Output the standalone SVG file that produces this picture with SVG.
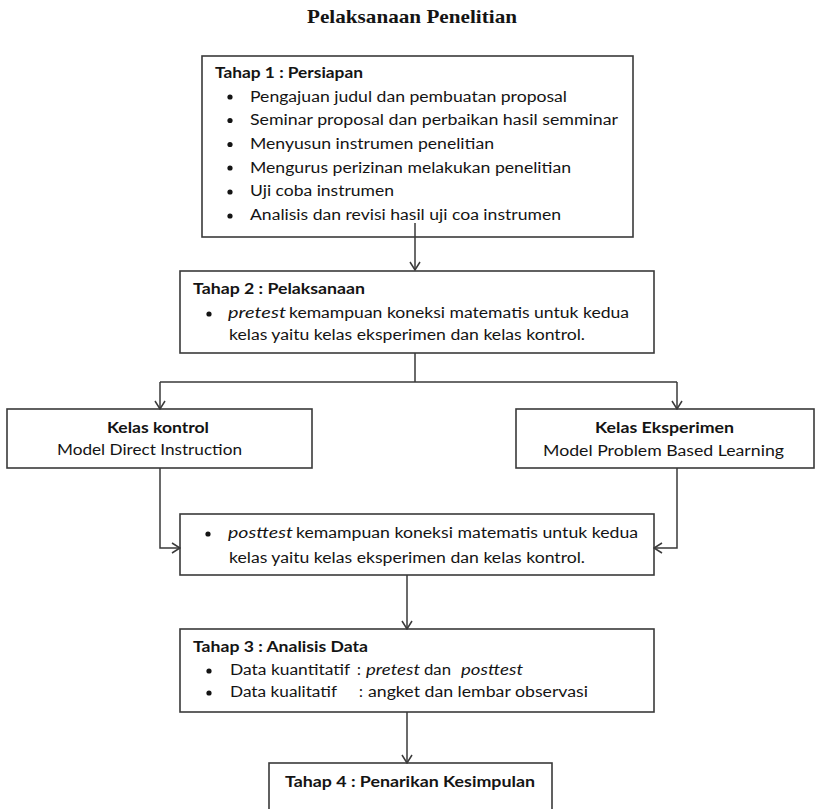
<svg xmlns="http://www.w3.org/2000/svg" width="815" height="809" viewBox="0 0 815 809">
<defs>
<style>
.box{fill:#fff;stroke:#3a3a3a;stroke-width:1.6}
.ln{fill:none;stroke:#3a3a3a;stroke-width:1.5}
.arr{marker-end:url(#ah)}
text{font-family:Lato,"Liberation Sans",sans-serif;fill:#141414;font-size:15.5px}
.b{font-weight:bold}
.i{font-style:italic}
.title{font-family:"Liberation Serif",serif;font-weight:bold;font-size:19px}
.dot{fill:#141414}
</style>
<marker id="ah" viewBox="0 0 10 12" refX="9" refY="6" markerWidth="10" markerHeight="12" markerUnits="userSpaceOnUse" orient="auto">
<path d="M1,1 L9,6 L1,11" fill="none" stroke="#3a3a3a" stroke-width="1.5"/>
</marker>
</defs>
<rect width="815" height="809" fill="#fff"/>
<text class="title" x="307" y="23" textLength="210" lengthAdjust="spacingAndGlyphs">Pelaksanaan Penelitian</text>

<g id="tahap1">
<rect class="box" x="202" y="56" width="431" height="181"/>
<text class="b" x="215" y="78" textLength="148" lengthAdjust="spacingAndGlyphs">Tahap 1 : Persiapan</text>
<circle class="dot" cx="230" cy="97" r="2.6"/>
<text x="250" y="101.5" textLength="317" lengthAdjust="spacingAndGlyphs">Pengajuan judul dan pembuatan proposal</text>
<circle class="dot" cx="230" cy="120.5" r="2.6"/>
<text x="250" y="125" textLength="368" lengthAdjust="spacingAndGlyphs">Seminar proposal dan perbaikan hasil semminar</text>
<circle class="dot" cx="230" cy="144.5" r="2.6"/>
<text x="250" y="149" textLength="244" lengthAdjust="spacingAndGlyphs">Menyusun instrumen penelitian</text>
<circle class="dot" cx="230" cy="168" r="2.6"/>
<text x="250" y="172.5" textLength="321" lengthAdjust="spacingAndGlyphs">Mengurus perizinan melakukan penelitian</text>
<circle class="dot" cx="230" cy="192" r="2.6"/>
<text x="250" y="196" textLength="144" lengthAdjust="spacingAndGlyphs">Uji coba instrumen</text>
<circle class="dot" cx="230" cy="216" r="2.6"/>
<text x="250" y="220" textLength="311" lengthAdjust="spacingAndGlyphs">Analisis dan revisi hasil uji coa instrumen</text>
</g>

<g id="tahap2">
<rect class="box" x="180" y="271" width="474" height="82"/>
<text class="b" x="193" y="294" textLength="172" lengthAdjust="spacingAndGlyphs">Tahap 2 : Pelaksanaan</text>
<circle class="dot" cx="209" cy="314" r="2.6"/>
<text class="i" x="228" y="318" textLength="58" lengthAdjust="spacingAndGlyphs">pretest</text>
<text x="289" y="318" textLength="340" lengthAdjust="spacingAndGlyphs">kemampuan koneksi matematis untuk kedua</text>
<text x="229" y="340" textLength="356" lengthAdjust="spacingAndGlyphs">kelas yaitu kelas eksperimen dan kelas kontrol.</text>
</g>

<g id="kelas-kontrol">
<rect class="box" x="7" y="409" width="305" height="59"/>
<text class="b" x="107" y="433" textLength="102" lengthAdjust="spacingAndGlyphs">Kelas kontrol</text>
<text x="57" y="455" textLength="185" lengthAdjust="spacingAndGlyphs">Model Direct Instruction</text>
</g>

<g id="kelas-eksperimen">
<rect class="box" x="516" y="409" width="298" height="59"/>
<text class="b" x="595" y="433" textLength="139" lengthAdjust="spacingAndGlyphs">Kelas Eksperimen</text>
<text x="543" y="456" textLength="241" lengthAdjust="spacingAndGlyphs">Model Problem Based Learning</text>
</g>

<g id="posttest">
<rect class="box" x="180" y="514" width="474" height="61"/>
<circle class="dot" cx="208" cy="534" r="2.6"/>
<text class="i" x="228" y="538" textLength="65" lengthAdjust="spacingAndGlyphs">posttest</text>
<text x="296" y="538" textLength="342" lengthAdjust="spacingAndGlyphs">kemampuan koneksi matematis untuk kedua</text>
<text x="229" y="563" textLength="356" lengthAdjust="spacingAndGlyphs">kelas yaitu kelas eksperimen dan kelas kontrol.</text>
</g>

<g id="tahap3">
<rect class="box" x="180" y="629" width="474" height="83"/>
<text class="b" x="193" y="652" textLength="175" lengthAdjust="spacingAndGlyphs">Tahap 3 : Analisis Data</text>
<circle class="dot" cx="209" cy="671" r="2.6"/>
<text x="230" y="675" textLength="120" lengthAdjust="spacingAndGlyphs">Data kuantitatif</text>
<text x="357" y="675">:</text>
<text class="i" x="366" y="675" textLength="54" lengthAdjust="spacingAndGlyphs">pretest</text>
<text x="424" y="675" textLength="27" lengthAdjust="spacingAndGlyphs">dan</text>
<text class="i" x="461" y="675" textLength="62" lengthAdjust="spacingAndGlyphs">posttest</text>
<circle class="dot" cx="209" cy="693" r="2.6"/>
<text x="230" y="697" textLength="107" lengthAdjust="spacingAndGlyphs">Data kualitatif</text>
<text x="359" y="697">:</text>
<text x="368" y="697" textLength="220" lengthAdjust="spacingAndGlyphs">angket dan lembar observasi</text>
</g>

<g id="tahap4">
<rect class="box" x="269" y="763" width="283" height="70"/>
<text class="b" x="285" y="787" textLength="250" lengthAdjust="spacingAndGlyphs">Tahap 4 : Penarikan Kesimpulan</text>
</g>

<g id="connectors">
<path class="ln arr" d="M415,223 V270"/>
<path class="ln" d="M415,353 V382 M160,382 H677"/>
<path class="ln arr" d="M160,382 V409"/>
<path class="ln arr" d="M677,382 V409"/>
<path class="ln arr" d="M160,468 V548 H180"/>
<path class="ln arr" d="M677,468 V548 H654"/>
<path class="ln arr" d="M407,575 V629"/>
<path class="ln arr" d="M407,712 V763"/>
</g>
</svg>
